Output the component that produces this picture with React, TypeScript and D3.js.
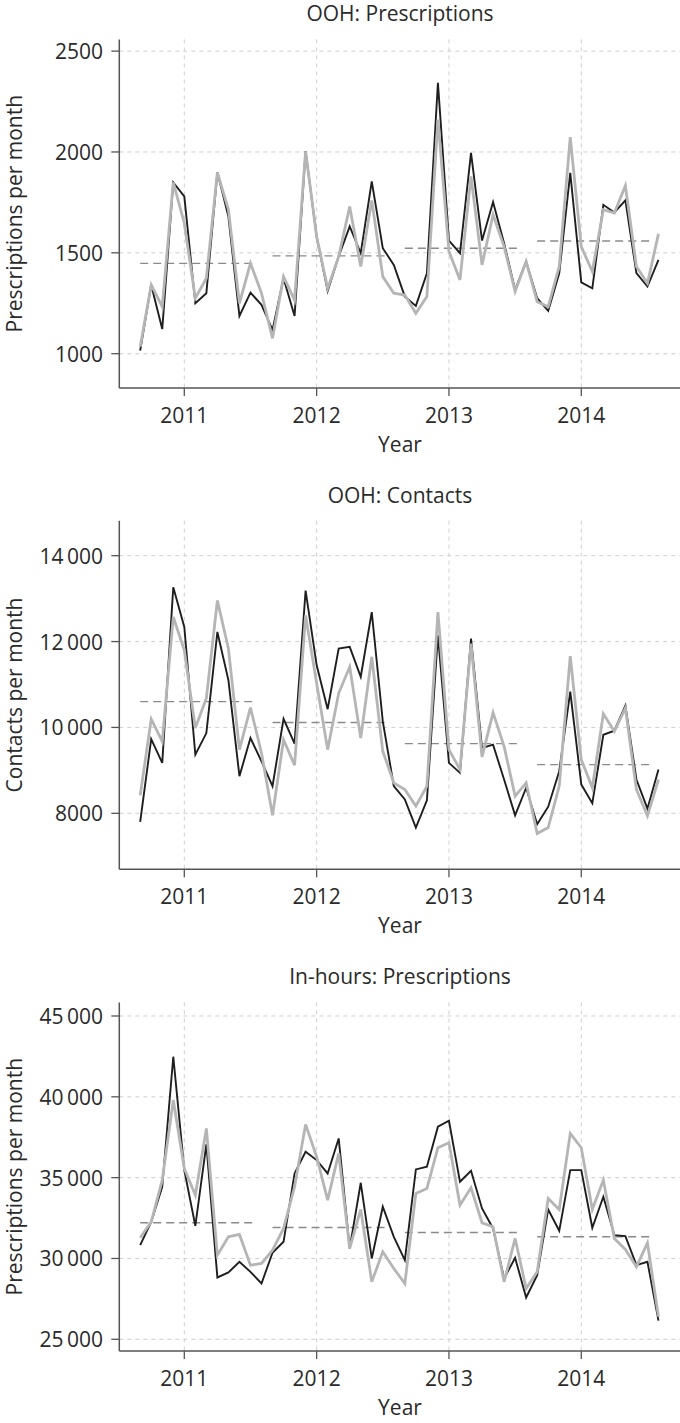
import React from "react";
import * as d3 from "d3";

// Months: Sep 2010 .. Aug 2014 (48 monthly points)
const startYear = 2010;
const startMonth = 9; // September
const yearTicks = [2011, 2012, 2013, 2014];

const oohRxBlack = [1015, 1341, 1122, 1849, 1780, 1250, 1300, 1899, 1680, 1187, 1303, 1242,
  1118, 1374, 1187, 2003, 1581, 1311, 1482, 1631, 1498, 1854, 1523, 1440,
  1283, 1237, 1399, 2343, 1561, 1498, 1995, 1561, 1752, 1548, 1316, 1457,
  1275, 1212, 1399, 1896, 1354, 1324, 1738, 1700, 1760, 1399, 1333, 1465];
const oohRxGrey = [1035, 1341, 1233, 1849, 1647, 1275, 1374, 1899, 1714, 1250, 1449, 1300,
  1076, 1382, 1266, 2003, 1581, 1324, 1482, 1730, 1432, 1760, 1382, 1300,
  1291, 1200, 1283, 2160, 1507, 1366, 1879, 1440, 1689, 1531, 1308, 1457,
  1258, 1233, 1432, 2074, 1531, 1407, 1714, 1697, 1833, 1432, 1349, 1594];
const oohRxMeans = [1448, 1485, 1523, 1559];
const oohRxTicks = [1000, 1500, 2000, 2500];

const oohContactsBlack = [7799, 9730, 9174, 13266, 12340, 9367, 9869, 12224, 11104, 8865, 9753, 9212,
  8633, 10201, 9622, 13189, 11452, 10425, 11838, 11876, 11181, 12687, 10139, 8633,
  8324, 7668, 8301, 12147, 9174, 8942, 12070, 9521, 9598, 8788, 7954, 8595,
  7745, 8154, 8981, 10834, 8672, 8232, 9830, 9923, 10510, 8788, 8108, 9019];
const oohContactsGrey = [8417, 10193, 9676, 12571, 11799, 9985, 10680, 12957, 11838, 9483, 10463, 9405,
  7954, 9714, 9120, 12610, 11027, 9483, 10795, 11413, 9753, 11645, 9444, 8710,
  8556, 8170, 8633, 12687, 9483, 9019, 11954, 9313, 10347, 9560, 8402, 8710,
  7529, 7668, 8633, 11660, 9251, 8595, 10317, 9907, 10448, 8556, 7938, 8788];
const oohContactsMeans = [10602, 10116, 9622, 9135];
const oohContactsTicks = [8000, 10000, 12000, 14000];

const inHoursBlack = [30825, 32269, 34435, 42481, 35467, 32022, 37055, 28824, 29134, 29794, 29175, 28453,
  30351, 31032, 35261, 36602, 36086, 35261, 37427, 30619, 34683, 30000, 33198, 31341,
  29897, 35508, 35673, 38149, 38520, 34745, 35426, 33095, 31857, 28762, 30041, 27586,
  28969, 33033, 31712, 35467, 35467, 31898, 33816, 31444, 31382, 29587, 29794, 26151];
const inHoursGrey = [31279, 32269, 34848, 39799, 35570, 33920, 38046, 30206, 31341, 31485, 29587, 29690,
  30516, 31857, 34435, 38293, 36292, 33610, 36498, 30619, 33033, 28556, 30413, 29381,
  28453, 34023, 34333, 36849, 37159, 33301, 34374, 32207, 31960, 28556, 31238, 28143,
  29175, 33714, 33033, 37736, 36849, 33033, 34848, 31238, 30557, 29484, 30970, 26400];
const inHoursMeans = [32207, 31919, 31609, 31341];
const inHoursTicks = [25000, 30000, 35000, 40000, 45000];

const panels = [
  { title: "OOH: Prescriptions", ylabel: "Prescriptions per month", black: oohRxBlack, grey: oohRxGrey, means: oohRxMeans, ticks: oohRxTicks, domain: [830, 2558] },
  { title: "OOH: Contacts", ylabel: "Contacts per month", black: oohContactsBlack, grey: oohContactsGrey, means: oohContactsMeans, ticks: oohContactsTicks, domain: [6696, 14815] },
  { title: "In-hours: Prescriptions", ylabel: "Prescriptions per month", black: inHoursBlack, grey: inHoursGrey, means: inHoursMeans, ticks: inHoursTicks, domain: [24276, 45841] },
];

const W = 680;
const H = 1423;
const FONT = "'Open Sans', sans-serif";
const TEXT = "#2a2a2a";
const FS = 21;

const fmt = (v: number) => {
  if (Math.abs(v) >= 10000) return d3.format(",")(v).replace(/,/g, "\u2009");
  return String(v);
};

function Panel({ p, top }: { p: any; top: number }) {
  const plotTop = top;
  const plotBottom = top + 348.6;
  const left = 119.3;
  const right = 682;
  const x = d3.scaleLinear().domain([2010.5088, 2014.746]).range([left, 680]);
  const y = d3.scaleLinear().domain(p.domain).range([plotBottom, plotTop]);
  const t = (k: number) => startYear + (startMonth - 1) / 12 + k / 12;
  const line = d3.line<number>().x((_, i) => x(t(i))).y((v) => y(v));
  const midY = (plotTop + plotBottom) / 2;
  return (
    <g>
      <text x={400} y={plotTop - 26} textAnchor="middle" dominantBaseline="central" fontFamily={FONT} fontSize={FS} fill={TEXT}>{p.title}</text>
      {p.ticks.map((v: number) => (
        <line key={"h" + v} x1={left} x2={right} y1={y(v)} y2={y(v)} stroke="#cfcfcf" strokeWidth={1} strokeDasharray="4,4" />
      ))}
      {yearTicks.map((yr) => (
        <line key={"v" + yr} x1={x(yr)} x2={x(yr)} y1={plotTop} y2={plotBottom} stroke="#cfcfcf" strokeWidth={1} strokeDasharray="4,4" />
      ))}
      {p.means.map((m: number, i: number) => (
        <line key={"m" + i} x1={x(t(i * 12))} x2={x(t(i * 12 + 10.5))} y1={y(m)} y2={y(m)} stroke="#8a8a8a" strokeWidth={1.4} strokeDasharray="8,5" />
      ))}
      <path d={line(p.black) || ""} fill="none" stroke="#1e1e1e" strokeWidth={1.9} strokeLinejoin="miter" />
      <path d={line(p.grey) || ""} fill="none" stroke="#b5b5b5" strokeWidth={2.8} strokeLinejoin="miter" />
      <line x1={left} x2={left} y1={plotTop} y2={plotBottom} stroke="#555" strokeWidth={1.5} />
      <line x1={left} x2={right} y1={plotBottom} y2={plotBottom} stroke="#555" strokeWidth={1.5} />
      {p.ticks.map((v: number) => (
        <g key={"yt" + v}>
          <line x1={left - 8} x2={left} y1={y(v)} y2={y(v)} stroke="#555" strokeWidth={1.3} />
          <text x={103} y={y(v)} textAnchor="end" dominantBaseline="central" fontFamily={FONT} fontSize={FS} fill={TEXT}>{fmt(v)}</text>
        </g>
      ))}
      {yearTicks.map((yr) => (
        <g key={"xt" + yr}>
          <line x1={x(yr)} x2={x(yr)} y1={plotBottom} y2={plotBottom + 8} stroke="#555" strokeWidth={1.3} />
          <text x={x(yr)} y={plotBottom + 27} textAnchor="middle" dominantBaseline="central" fontFamily={FONT} fontSize={FS} fill={TEXT}>{yr}</text>
        </g>
      ))}
      <text x={400} y={plotBottom + 56} textAnchor="middle" dominantBaseline="central" fontFamily={FONT} fontSize={FS} fill={TEXT}>Year</text>
      <text transform={`translate(14,${midY}) rotate(-90)`} textAnchor="middle" dominantBaseline="central" fontFamily={FONT} fontSize={FS} fill={TEXT}>{p.ylabel}</text>
    </g>
  );
}

export default function App() {
  const tops = [39.4, 520.7, 1002.4];
  return (
    <svg width={W} height={H} style={{ position: "absolute", left: 0, top: 0, background: "#fff" }}>
      <rect width={W} height={H} fill="#fff" />
      {panels.map((p, i) => (
        <Panel key={i} p={p} top={tops[i]} />
      ))}
    </svg>
  );
}
